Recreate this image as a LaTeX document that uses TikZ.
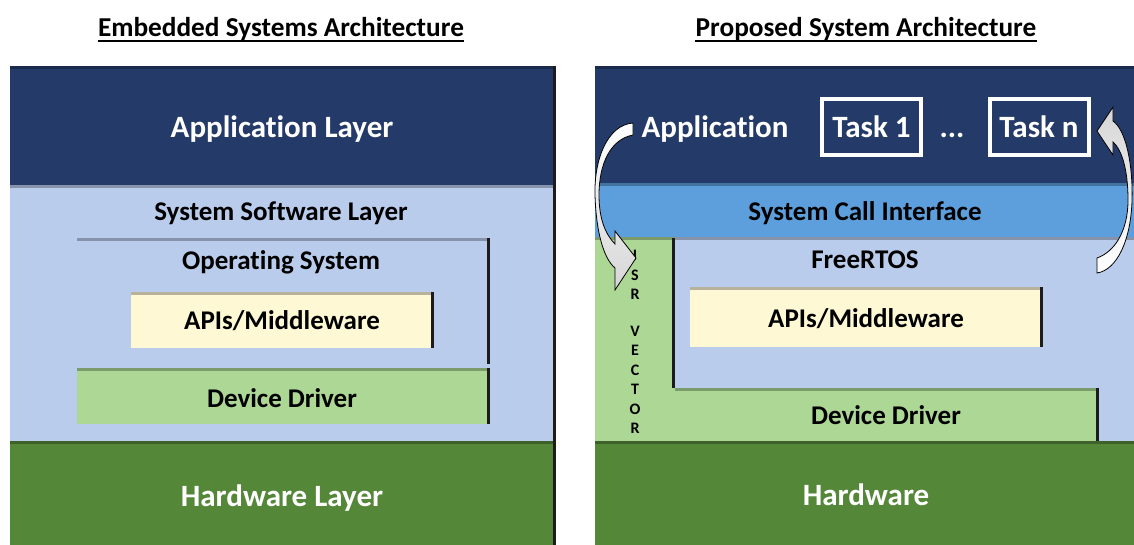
\documentclass[tikz,border=0pt]{standalone}
\usepackage{fontspec}
\setmainfont[Ligatures=NoCommon]{Carlito}
\usetikzlibrary{calc}

\definecolor{navy}{HTML}{243A68}
\definecolor{paleblue}{HTML}{BACCEC}
\definecolor{sky}{HTML}{5C9FDC}
\definecolor{cream}{HTML}{FEF8D5}
\definecolor{mint}{HTML}{ADD795}
\definecolor{leaf}{HTML}{558739}
\definecolor{edgecol}{HTML}{1C1C1C}

\tikzset{
  % flat layer block with a darker top bevel
  slab/.style={fill=#1, draw=none, inner sep=0pt, outer sep=0pt, anchor=north west,
    path picture={
      \fill[#1!72!black] (path picture bounding box.north west)
        rectangle ([yshift=-2.5pt]path picture bounding box.north east);
    }},
  % layer block with top bevel and a dark right-hand edge
  rslab/.style={fill=#1, draw=none, inner sep=0pt, outer sep=0pt, anchor=north west,
    path picture={
      \fill[#1!72!black] (path picture bounding box.north west)
        rectangle ([yshift=-2.5pt]path picture bounding box.north east);
      \fill[edgecol] ([xshift=-3pt]path picture bounding box.north east)
        rectangle (path picture bounding box.south east);
    }},
  lbl/.style={font=\fontsize{27}{32}\selectfont\bfseries, text=black, inner sep=0pt, anchor=base},
  biglbl/.style={font=\fontsize{31}{36}\selectfont\bfseries, text=white, inner sep=0pt, anchor=base},
  heading/.style={font=\fontsize{27.3}{32}\selectfont\bfseries, text=black, inner sep=0pt, anchor=base},
  taskbox/.style={draw=white, line width=4pt, inner sep=0pt, minimum width=99pt, minimum height=56pt},
  bentarrow/.style={draw=black, line width=0.8pt, line join=miter},
}

\begin{document}
\begin{tikzpicture}[x=1pt, y=-1pt]
\useasboundingbox (0,0) rectangle (1134,544);
\fill[white] (0,0) rectangle (1134,544);
\clip (0,0) rectangle (1134,544);

% ---------------- left stack ----------------
\node[heading] (titleL) at (281,36) {Embedded Systems Architecture};
\draw[line width=2pt] ([yshift=-5pt]titleL.base west) -- ([yshift=-5pt]titleL.base east);

\node[rslab=navy, minimum width=546pt, minimum height=120pt] (appL) at (10,66) {};
\node[rslab=paleblue, minimum width=546pt, minimum height=256pt] (sysL) at (10,185) {};
\node[rslab=leaf, minimum width=546pt, minimum height=110pt] (hwL) at (10,441) {};
\node[rslab=paleblue, minimum width=413pt, minimum height=126pt] (osL) at (77,238) {};
\node[rslab=cream, minimum width=303pt, minimum height=56pt] (apiL) at (131,292) {};
\node[rslab=mint, minimum width=413pt, minimum height=56pt] (ddL) at (77,368) {};

\node[biglbl] (appLtxt) at (282,137) {Application Layer};
\node[lbl] (sysLtxt) at (281,220) {System Software Layer};
\node[lbl] (osLtxt) at (281,269) {Operating System};
\node[lbl] (apiLtxt) at (282,329) {APIs/Middleware};
\node[lbl] (ddLtxt) at (282,407) {Device Driver};
\node[biglbl] (hwLtxt) at (282,506) {Hardware Layer};

% ---------------- right stack ----------------
\node[heading] (titleR) at (866,36) {Proposed System Architecture};
\draw[line width=2pt] ([yshift=-5pt]titleR.base west) -- ([yshift=-5pt]titleR.base east);

\node[slab=navy, minimum width=545pt, minimum height=119pt] (appR) at (595,66) {};
\node[slab=sky, minimum width=545pt, minimum height=54pt] (sci) at (595,183) {};
\node[slab=paleblue, minimum width=545pt, minimum height=205pt] (rtos) at (595,237) {};
\node[slab=mint, minimum width=80pt, minimum height=204pt] (isr) at (595,237) {};
\node[rslab=cream, minimum width=353pt, minimum height=60pt] (apiR) at (690,287) {};
\node[rslab=mint, minimum width=424pt, minimum height=53pt] (ddR) at (675,388) {};
\node[slab=leaf, minimum width=545pt, minimum height=110pt] (hwR) at (595,441) {};
\fill[edgecol] ([xshift=-3pt,yshift=-1pt]isr.north east) rectangle (isr.east |- ddR.north);

\node[biglbl] (appRtxt) at (715,137) {Application};
\node[taskbox] (task1) at (871.5,127) {};
\node[biglbl] (task1txt) at (871.5,137) {Task 1};
\node[biglbl] (dots) at (952,137) {...};
\node[taskbox] (taskn) at (1039,127) {};
\node[biglbl] (tasknTxt) at (1039,137) {Task n};

\node[lbl] (scitxt) at (865,220) {System Call Interface};
\node[lbl] (rtostxt) at (865,268) {FreeRTOS};
\node[lbl] (apiRtxt) at (866,327) {APIs/Middleware};
\node[lbl] (ddRtxt) at (886,424) {Device Driver};
\node[biglbl] (hwRtxt) at (866,505) {Hardware};

\node[font=\fontsize{16}{19.5}\selectfont\bfseries, align=center, inner sep=0pt]
  (isrtxt) at (635,342) {I\\S\\R\\[17pt]V\\E\\C\\T\\O\\R};

% ---------------- curved arrows ----------------
% from Application down into the ISR vector
\path[bentarrow, top color=white, middle color=white, bottom color=black!16]
  (633,123) .. controls (607,125) and (594,160) .. (595,195)
  .. controls (596,230) and (603,258) .. (615,268)
  -- (615,290) -- (636,258) -- (615,231) -- (615,244)
  .. controls (605,234) and (599,218) .. (599,195)
  .. controls (599,163) and (611,139) .. (633,135) -- cycle;

% from FreeRTOS back up to Task n
\path[bentarrow, top color=black!16, middle color=white, bottom color=white]
  (1113,121) .. controls (1126,130) and (1133,165) .. (1132,200)
  .. controls (1131,240) and (1117,270) .. (1097,273)
  -- (1097,258) .. controls (1114,252) and (1128,232) .. (1128,200)
  .. controls (1128,170) and (1122,150) .. (1113,142)
  -- (1113,155) -- (1097,131) -- (1113,107) -- cycle;
\end{tikzpicture}
\end{document}
